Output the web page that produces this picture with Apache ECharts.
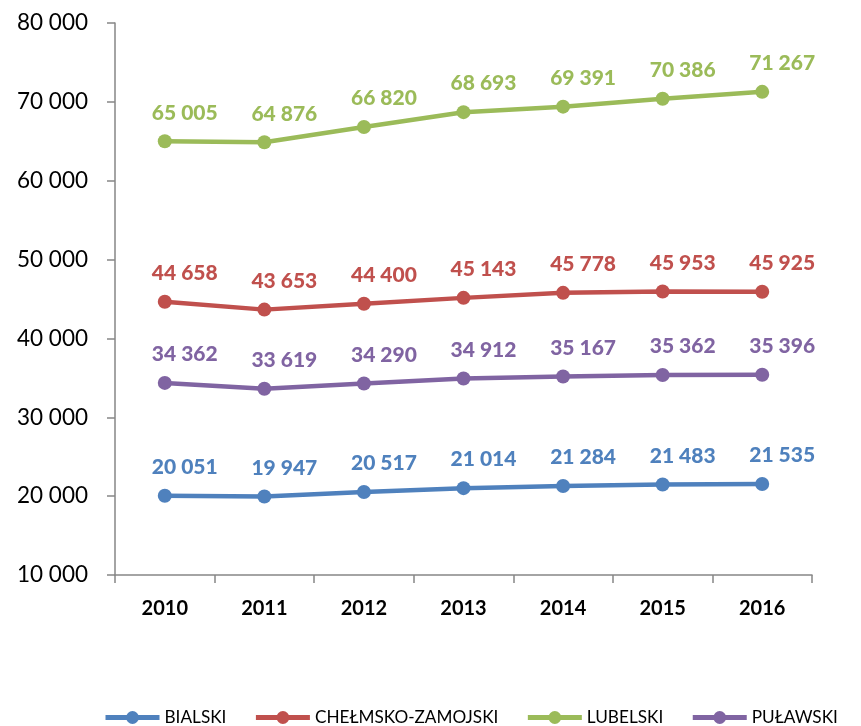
<!DOCTYPE html>
<html><head><meta charset="utf-8">
<script src="https://cdn.jsdelivr.net/npm/echarts@6/dist/echarts.min.js"></script>
<style>html,body{margin:0;padding:0;background:#fff}#c{width:861px;height:726px}</style>
</head><body><div id="c"></div>
<script>
const years = ['2010','2011','2012','2013','2014','2015','2016'];
const bialski = [20051,19947,20517,21014,21284,21483,21535];
const chelmsko = [44658,43653,44400,45143,45778,45953,45925];
const lubelski = [65005,64876,66820,68693,69391,70386,71267];
const pulawski = [34362,33619,34290,34912,35167,35362,35396];
const names = ['BIALSKI','CHEŁMSKO-ZAMOJSKI','LUBELSKI','PUŁAWSKI'];
const colors = ['#4F81BD','#C0504D','#9BBB59','#8064A2'];
const fmt = v => String(v).replace(/\B(?=(\d{3})+(?!\d))/g,' ');
const FONT = 'Lato';
function mk(name, data, color){
  return {name, type:'line', data, color, symbol:'circle', symbolSize:14,
    lineStyle:{width:4.5,color}, itemStyle:{color},
    label:{show:true, position:'top', distance:11, offset:[20,0], color, fontFamily:FONT, fontWeight:900, fontSize:21,
      formatter:p=>fmt(p.value)}};
}
const chart = echarts.init(document.getElementById('c'));
chart.setOption({
  animation:false,
  grid:{left:115,right:49,top:23,bottom:151,containLabel:false},
  legend:{top:704,left:98,width:850,itemWidth:54,itemHeight:16,itemGap:27,
    lineStyle:{width:5},
    textStyle:{fontFamily:FONT,fontSize:17.2,color:'#000'},
    data:names},
  xAxis:{type:'category',data:years,boundaryGap:true,
    axisLine:{lineStyle:{color:'#868686',width:1.5}},
    axisTick:{show:true,length:8,alignWithLabel:false,lineStyle:{color:'#868686',width:1.5}},
    axisLabel:{fontFamily:FONT,fontWeight:'bold',fontSize:20,color:'#000',margin:24}},
  yAxis:{type:'value',min:10000,max:80000,interval:10000,
    axisLine:{show:true,lineStyle:{color:'#868686',width:1.5}},
    axisTick:{show:true,length:8,lineStyle:{color:'#868686',width:1.5}},
    splitLine:{show:false},
    axisLabel:{fontFamily:FONT,fontSize:22.5,color:'#000',margin:27,formatter:v=>fmt(v)}},
  series:[mk(names[0],bialski,colors[0]),mk(names[1],chelmsko,colors[1]),mk(names[2],lubelski,colors[2]),mk(names[3],pulawski,colors[3])]
});
</script></body></html>
